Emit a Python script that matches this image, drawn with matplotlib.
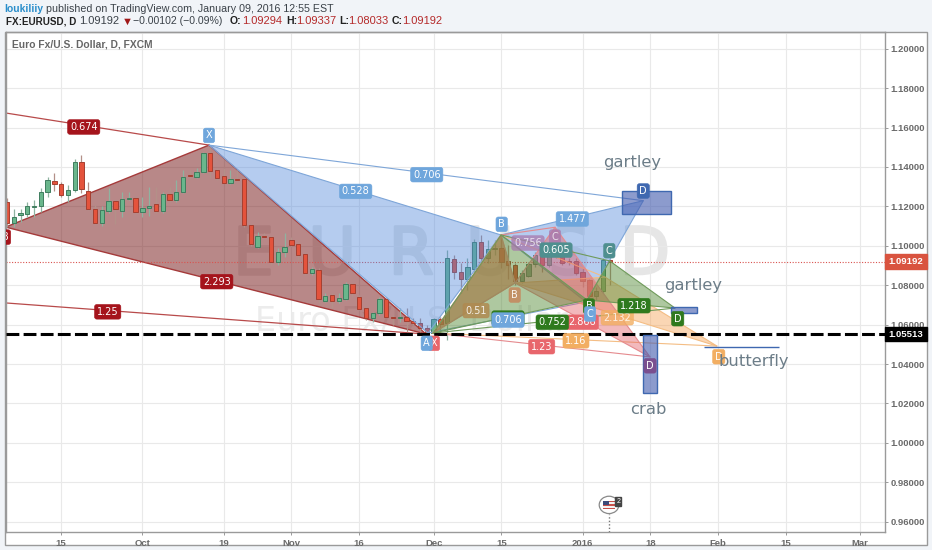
# EURUSD daily chart with harmonic patterns drawn on it (TradingView style)
import matplotlib
matplotlib.use("Agg")
import matplotlib.pyplot as plt
import matplotlib.patheffects as pe
from matplotlib.patches import Polygon, Rectangle, Ellipse

opens = [1.1220,1.1117,1.1156,1.1161,1.1198,1.1200,1.1271,1.1327,1.1313,1.1259,
         1.1283,1.1425,1.1276,1.1187,1.1116,1.1178,1.1226,1.1178,1.1239,1.1242,
         1.1170,1.1190,1.1214,1.1178,1.1264,1.1232,1.1271,1.1359,1.1351,1.1376,
         1.1469,1.1383,1.1354,1.1320,1.1341,1.1337,1.1104,1.0994,1.1051,1.1045,
         1.0918,1.0970,1.1029,1.1007,1.0957,1.0860,1.0879,1.0722,1.0749,1.0718,
         1.0732,1.0808,1.0738,1.0683,1.0635,1.0657,1.0728,1.0637,1.0632,1.0637,
         1.0617,1.0607,1.0581,1.0556,1.0627,1.0606,1.0934,1.0868,1.0831,1.0880,
         1.1017,1.0936,1.0985,1.0987,1.0924,1.0905,1.0823,1.0848,1.0907,1.0953,
         1.0904,1.0958,1.0953,1.0924,1.0924,1.0868,1.0824,1.0745,1.0772,1.09294]
highs = [1.1241,1.1185,1.1185,1.1224,1.1232,1.1291,1.1351,1.1368,1.1325,1.1308,
         1.1439,1.1461,1.1325,1.1207,1.1202,1.1291,1.1232,1.1275,1.1275,1.1249,
         1.1249,1.1300,1.1300,1.1275,1.1300,1.1334,1.1384,1.1384,1.1393,1.1477,
         1.1503,1.1393,1.1393,1.1384,1.1384,1.1342,1.1111,1.1072,1.1063,1.1050,
         1.0987,1.1063,1.1043,1.1016,1.0962,1.0894,1.0886,1.0759,1.0759,1.0759,
         1.0818,1.0813,1.0750,1.0691,1.0666,1.0742,1.0733,1.0649,1.0683,1.0683,
         1.0632,1.0632,1.0598,1.0632,1.0640,1.0978,1.0953,1.0911,1.0936,1.1037,
         1.1054,1.1029,1.1029,1.1046,1.1004,1.0911,1.0877,1.0919,1.0970,1.0995,
         1.0995,1.0995,1.0987,1.0936,1.0936,1.0885,1.0834,1.0792,1.0936,1.09337]
lows = [1.1097,1.1097,1.1122,1.1148,1.1148,1.1173,1.1249,1.1280,1.1249,1.1224,
        1.1275,1.1269,1.1182,1.1111,1.1100,1.1165,1.1111,1.1148,1.1232,1.1165,
        1.1148,1.1151,1.1165,1.1165,1.1224,1.1224,1.1266,1.1342,1.1342,1.1368,
        1.1342,1.1334,1.1317,1.1313,1.1330,1.1097,1.0999,1.0987,1.1043,1.0902,
        1.0902,1.0945,1.0999,1.0928,1.0852,1.0852,1.0711,1.0716,1.0683,1.0708,
        1.0725,1.0742,1.0674,1.0623,1.0615,1.0649,1.0637,1.0598,1.0615,1.0564,
        1.0598,1.0564,1.0547,1.0547,1.0547,1.0522,1.0834,1.0758,1.0775,1.0868,
        1.0911,1.0911,1.0953,1.0885,1.0834,1.0801,1.0809,1.0843,1.0894,1.0868,
        1.0894,1.0936,1.0902,1.0902,1.0851,1.0792,1.0733,1.0724,1.0758,1.08033]
closes = [1.1117,1.1144,1.1165,1.1200,1.1204,1.1273,1.1332,1.1312,1.1259,1.1285,
          1.1427,1.1290,1.1185,1.1116,1.1182,1.1227,1.1185,1.1239,1.1244,1.1170,
          1.1192,1.1202,1.1178,1.1264,1.1232,1.1271,1.1351,1.1354,1.1376,1.1469,
          1.1381,1.1342,1.1320,1.1341,1.1335,1.1104,1.1007,1.1051,1.1046,1.0918,
          1.0970,1.0996,1.1006,1.0955,1.0860,1.0880,1.0732,1.0747,1.0718,1.0733,
          1.0808,1.0759,1.0681,1.0635,1.0657,1.0730,1.0640,1.0632,1.0637,1.0617,
          1.0607,1.0581,1.0556,1.0627,1.0603,1.0936,1.0868,1.0834,1.0890,1.1020,
          1.0936,1.0982,1.0990,1.0919,1.0904,1.0823,1.0860,1.0907,1.0953,1.0905,
          1.0953,1.0953,1.0914,1.0919,1.0860,1.0823,1.0745,1.0772,1.0927,1.09192]

x_tick_bars = [8, 20, 32, 42, 52, 63, 73, 85, 95, 105, 115, 126]
x_tick_labels = ["15", "Oct", "19", "Nov", "16", "Dec", "15", "2016", "18", "Feb", "15", "Mar"]
y_ticks = [0.96, 0.98, 1.00, 1.02, 1.04, 1.06, 1.08, 1.10, 1.12, 1.14, 1.16, 1.18, 1.20]

last_price = 1.09192
level_price = 1.05513

# bar index, price of the pattern points
red_pts = [(-0.2, 1.1095), (29.83, 1.1511), (61.87, 1.0552)]
red_ac = [(-0.2, 1.1674), (29.83, 1.1511)]
red_xd = [(-0.2, 1.0710), (61.87, 1.0552)]
blue_pts = [(29.83, 1.1511), (62.17, 1.0557), (72.95, 1.1055), (85.5, 1.0715), (93.96, 1.1229)]
green_pts = [(62.9, 1.0557), (72.95, 1.1055), (85.65, 1.0725), (89.0, 1.0923), (98.64, 1.0684)]
orange_pts = [(62.9, 1.0557), (72.95, 1.1055), (75.02, 1.0811), (88.3, 1.0841), (104.84, 1.0491)]
pink_pts = [(62.9, 1.0557), (72.95, 1.1055), (75.02, 1.0811), (80.92, 1.1094), (94.95, 1.0436)]

# bar from, bar to, price top, price bottom
target_boxes = [(90.86, 98.0, 1.1279, 1.1161),
                (93.96, 95.94, 1.0547, 1.0255),
                (98.0, 101.94, 1.0688, 1.0659),
                (102.93, 114.0, 1.0488, 1.0488)]

dark_red = "#a5141c"
blue = "#6fa6dc"
dark_green = "#2f7a1e"
teal = "#4f8f8f"
orange = "#f2ae62"
pink = "#e8666c"
purple = "#a878ad"
plum = "#7a4f8f"
navy = "#3f68b0"

# text, bar, price, colour, alpha
labels = [
    ("B", -0.3, 1.1044, dark_red, 1.0),
    ("0.674", 11.33, 1.1603, dark_red, 1.0),
    ("2.293", 30.97, 1.0818, dark_red, 1.0),
    ("1.25", 14.87, 1.0665, dark_red, 1.0),
    ("X", 29.83, 1.1560, blue, 1.0),
    ("0.706", 61.98, 1.1361, blue, 1.0),
    ("0.528", 51.49, 1.1276, blue, 1.0),
    ("1.477", 83.48, 1.1136, blue, 1.0),
    ("0.756", 76.93, 1.1014, purple, 0.75),
    ("C", 80.92, 1.1044, purple, 0.75),
    ("0.605", 81.07, 1.0978, teal, 1.0),
    ("0.51", 69.26, 1.0671, "#b08a50", 0.85),
    ("B", 74.97, 1.0750, "#c58a60", 0.9),
    ("2.132", 90.12, 1.0635, orange, 0.8),
    ("1.16", 84.02, 1.0518, orange, 1.0),
    ("1.23", 78.96, 1.0488, pink, 1.0),
    ("2.866", 84.95, 1.0612, pink, 1.0),
    ("0.706", 73.98, 1.0633, dark_green, 1.0),
    ("0.706", 73.98, 1.0623, blue, 1.0),
    ("0.752", 80.52, 1.0612, dark_green, 1.0),
    ("1.218", 92.59, 1.0696, dark_green, 1.0),
    ("B", 73.05, 1.1109, blue, 1.0),
    ("B", 85.94, 1.0694, dark_green, 1.0),
    ("C", 86.09, 1.0654, blue, 1.0),
    ("C", 88.94, 1.0975, teal, 1.0),
    ("D", 93.96, 1.1278, navy, 1.0),
    ("D", 99.04, 1.0630, dark_green, 1.0),
    ("D", 94.95, 1.0391, plum, 1.0),
    ("D", 105.1, 1.0437, orange, 1.0),
    ("X", 63.05, 1.0505, pink, 1.0),
    ("A", 61.98, 1.0505, blue, 1.0),
]

# text, bar, price
pattern_names = [("gartley", 92.25, 1.1423), ("gartley", 101.26, 1.0801),
                 ("butterfly", 110.3, 1.0415), ("crab", 94.7, 1.0170)]

watermark_letters = "EURUSD"
watermark_bars = [36.3, 48.0, 59.7, 71.3, 83.0, 94.2]

W, H = 932, 550
page = "#f1f4f8"

fig = plt.figure(figsize=(W / 100, H / 100), dpi=100, facecolor=page)
plt.rcParams["font.family"] = ["Liberation Sans", "DejaVu Sans"]

# outer chart frame, right and bottom scales sit in it
fig.add_artist(Rectangle((5 / W, 1 - 545 / H), 922 / W, 513 / H, transform=fig.transFigure,
                         fc="white", ec="#9a9a9a", lw=1.0, zorder=0))

ax = fig.add_axes([5.5 / W, 1 - 531.7 / H, 879.5 / W, 499.7 / H], facecolor="none")
ax.set_xlim(-0.22, 129.65)
ax.set_ylim(0.9549, 1.2085)
for s in ax.spines.values():
    s.set_color("#9a9a9a")
    s.set_linewidth(1.0)
ax.grid(True, color="#e9e9e9", lw=0.8, zorder=0)
ax.set_axisbelow(True)

ax.yaxis.tick_right()
ax.set_yticks(y_ticks)
ax.set_yticklabels(["%.5f" % v for v in y_ticks], fontsize=6.8, color="#6a6a6a", fontweight="bold")
ax.set_xticks(x_tick_bars)
ax.set_xticklabels(x_tick_labels, fontsize=6.8, color="#6a6a6a", fontweight="bold")
ax.tick_params(axis="y", length=2.5, color="#9a9a9a", width=0.7, pad=1.5)
ax.tick_params(axis="x", length=2.5, color="#9a9a9a", width=0.7, pad=2.5)

# watermark
for ch, b in zip(watermark_letters, watermark_bars):
    ax.text(b, 1.0948, ch, fontsize=47, color="#e6e6e6", ha="center", va="center",
            family="DejaVu Sans", zorder=0.5,
            path_effects=[pe.withStroke(linewidth=1.8, foreground="#e6e6e6")])
ax.text(36.6, 1.0618, "Euro Fx/U.S. Dollar", fontsize=24, color="#ececec", ha="left", va="center",
        family="DejaVu Sans", zorder=0.5)

# red pattern lies under the candles
ax.add_patch(Polygon(red_pts, closed=True, fc=(0.45, 0.07, 0.07, 0.5), ec="#a53a3a", lw=1.0, zorder=1))
for seg in (red_ac, red_xd):
    ax.plot(*zip(*seg), color="#b84a4a", lw=0.9, zorder=1)

ax.axhline(last_price, color="#d9534f", lw=0.8, ls=(0, (1, 1.5)), zorder=1.5)

# candles
bars = list(range(len(opens)))
up_bars = [b for b in bars if closes[b] >= opens[b]]
down_bars = [b for b in bars if closes[b] < opens[b]]
wick_col = ["#8fb3a0" if closes[b] >= opens[b] else "#b39088" for b in bars]
ax.vlines(bars, lows, highs, color=wick_col, lw=0.9, zorder=2)
ax.bar(up_bars, [closes[b] - opens[b] for b in up_bars], bottom=[opens[b] for b in up_bars], width=0.64,
       color="#6ab68c", edgecolor="#3f7d5e", lw=0.7, zorder=2.1)
ax.bar(down_bars, [opens[b] - closes[b] for b in down_bars], bottom=[closes[b] for b in down_bars], width=0.64,
       color="#e4533c", edgecolor="#a53f30", lw=0.7, zorder=2.1)


def draw_pattern(pts, rgb, alpha, edge, z):
    x_pt, a_pt, b_pt, c_pt, d_pt = pts
    ax.add_patch(Polygon([x_pt, a_pt, b_pt], closed=True, fc=rgb + (alpha,), ec=edge, lw=0.8, zorder=z))
    ax.add_patch(Polygon([b_pt, c_pt, d_pt], closed=True, fc=rgb + (alpha,), ec=edge, lw=0.8, zorder=z))
    for seg in ((x_pt, d_pt), (a_pt, c_pt)):
        ax.plot(*zip(*seg), color=edge, lw=0.8, zorder=z)


draw_pattern(blue_pts, (0.31, 0.53, 0.86), 0.42, "#7ea6d8", 3.0)
draw_pattern(orange_pts, (0.96, 0.62, 0.30), 0.42, "#f4bd84", 3.1)
draw_pattern(pink_pts, (0.88, 0.35, 0.38), 0.42, "#e58a8e", 3.2)
draw_pattern(green_pts, (0.30, 0.52, 0.18), 0.45, "#6f9a5a", 3.3)

# level line across the whole chart
ax.axhline(level_price, color="black", lw=2.2, ls=(0, (4.2, 1.4)), zorder=4)

for left, right, top, bottom in target_boxes:
    ax.add_patch(Rectangle((left, bottom), right - left, top - bottom, fc=(0.25, 0.35, 0.68, 0.6),
                           ec=navy, lw=1.0, zorder=4.5))

for text, b, p, col, alpha in labels:
    ax.text(b, p, text, color="white", fontsize=7, ha="center", va="center",
            family="DejaVu Sans", alpha=alpha, clip_on=True, zorder=5,
            bbox=dict(boxstyle="round,pad=0.24", fc=col, ec=col, lw=0.4, alpha=alpha))

for text, b, p in pattern_names:
    ax.text(b, p, text, color="#6c7d88", fontsize=11.8, ha="center", va="center", family="DejaVu Sans", zorder=6)

# event marker at the bottom
ax.plot([88.9, 88.9], [0.9549, 0.9640], color="#777777", lw=1.0, ls=(0, (1, 1.5)), zorder=5)
ax.add_patch(Ellipse((88.9, 0.9685), 2.9, 0.0088, fc="white", ec="#8a8a8a", lw=0.9, zorder=5))
for k, stripe in enumerate(["#c9504a", "#f2f2f2", "#c9504a", "#f2f2f2", "#c9504a"]):
    ax.add_patch(Rectangle((87.95, 0.9663 + k * 0.00088), 1.9, 0.00088, fc=stripe, ec="none", zorder=5.1))
ax.add_patch(Rectangle((87.95, 0.9685), 0.95, 0.0022, fc="#3d4a78", ec="none", zorder=5.2))
ax.text(90.25, 0.9702, "2", color="white", fontsize=5, ha="center", va="center", zorder=5.3,
        bbox=dict(boxstyle="square,pad=0.15", fc="#444444", ec="#444444"))

# price tags on the right scale
for p, tag, txt in ((level_price, "black", "1.05513"), (last_price, "#d9533f", "1.09192")):
    ax.add_patch(Rectangle((1.0, p - 0.0037), 0.0478, 0.0074, transform=ax.get_yaxis_transform(),
                           fc=tag, ec=tag, clip_on=False, zorder=7))
    ax.text(1.0239, p, txt, transform=ax.get_yaxis_transform(), color="white", fontsize=6.8, fontweight="bold",
            ha="center", va="center", clip_on=False, zorder=8)


def head(px, py, text, color="#3a4148", weight="normal", size=7.6):
    fig.text(px / W, 1 - py / H, text, color=color, fontweight=weight, fontsize=size, ha="left", va="center")


head(4, 8.5, "loukiliiy", color="#2a8ecb", weight="bold", size=7.4)
head(45.5, 8.5, "published on TradingView.com, January 09, 2016 12:55 EST", size=7.7)
head(6, 21.5, "FX:EURUSD, D", color="#222222", weight="bold", size=7.1)
head(79, 21.5, "1.09192", size=8)
head(122, 21.5, "\u25bc", color="#a01818", size=8)
head(133, 21.5, "\u22120.00102 (\u22120.09%)", size=7.6)
for px, txt in ((230, "O:"), (286, "H:"), (339, "L:"), (392, "C:")):
    head(px, 21.5, txt, color="#222222", weight="bold")
for px, txt in ((242, "1.09294"), (296, "1.09337"), (348, "1.08033"), (402, "1.09192")):
    head(px, 21.5, txt, color="#b52a2a", size=8)
head(12.5, 44.5, "Euro Fx/U.S. Dollar, D, FXCM", color="#666666", weight="bold", size=7.4)

fig.savefig("out.png", dpi=100, facecolor=page)
